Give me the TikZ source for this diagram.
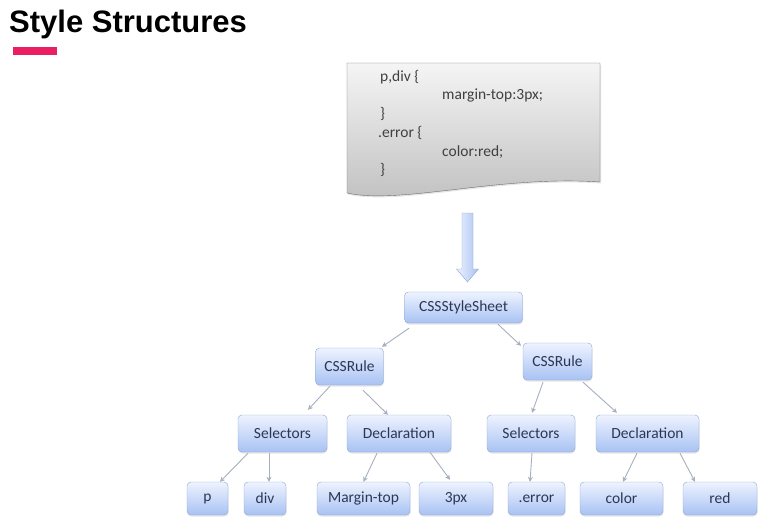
\documentclass[tikz,border=0pt]{standalone}
\usepackage{fontspec}
\setmainfont{Carlito}
\newfontfamily\titlefont{Liberation Sans}
\usetikzlibrary{arrows.meta, shadows}
\definecolor{boxline}{RGB}{140,165,210}
\definecolor{boxtop}{RGB}{238,243,255}
\definecolor{boxbot}{RGB}{168,194,243}
\definecolor{boxtext}{RGB}{45,55,85}
\definecolor{linkgray}{RGB}{165,175,192}
\definecolor{accent}{RGB}{233,30,99}
\definecolor{docline}{RGB}{110,110,110}
\tikzset{
  box/.style={rectangle, draw=boxline, rounded corners=4pt, top color=boxtop, bottom color=boxbot, text=boxtext, inner sep=0pt, minimum height=37pt, font=\fontsize{15.5}{18}\selectfont, drop shadow={shadow xshift=0.5pt, shadow yshift=-1.5pt, opacity=0.2}},
  leaf/.style={box, minimum height=33pt},
  code/.style={anchor=base west, inner sep=0pt, text=black!75, font=\fontsize{15.5}{19}\selectfont},
  link/.style={draw=linkgray, line width=0.9pt, -{Stealth[length=5pt, width=5pt]}},
  flow/.style={draw=boxline, left color=boxtop, right color=boxbot}
}
\begin{document}
\begin{tikzpicture}[x=1pt, y=-1pt]
  \useasboundingbox (0,0) rectangle (777,530);
  % Title
  \node[anchor=base west, inner sep=0pt, font=\titlefont\bfseries\fontsize{31}{36}\selectfont] (title) at (9,32) {Style Structures};
  \fill[accent] (13,47) rectangle (57,55);

  % Document
  \draw[docline, top color=gray!8, bottom color=gray!50, drop shadow={opacity=0.2, shadow xshift=1pt, shadow yshift=-1.5pt}]
    (347,63) -- (600,63) -- (600,182) .. controls (500,175) and (400,205) .. (347,193) -- cycle;
  \node[code] (l1) at (380,81) {p,div \{};
  \node[code] (l2) at (442,99) {margin-top:3px;};
  \node[code] (l3) at (380,118) {\}};
  \node[code] (l4) at (378,137) {.error \{};
  \node[code] (l5) at (442,156) {color:red;};
  \node[code] (l6) at (380,174) {\}};

  % Parse arrow
  \coordinate (flowtop) at (467.5,213);
  \draw[flow] (flowtop) ++(-5.5,0) -- ++(0,56) -- ++(-5.5,0) -- ++(11,13) -- ++(11,-13) -- ++(-5.5,0) -- ++(0,-56) -- cycle;

  % Nodes
  \node[box, minimum width=118pt, minimum height=31pt] (sheet) at (463.5,307.5) {CSSStyleSheet};
  \node[box, minimum width=68pt] (ruleL) at (349.5,366.5) {CSSRule};
  \node[box, minimum width=69pt] (ruleR) at (557.5,361.5) {CSSRule};
  \node[box, minimum width=89pt] (selL) at (282.5,433.5) {Selectors};
  \node[box, minimum width=104pt] (declL) at (399,433.5) {Declaration};
  \node[box, minimum width=88pt] (selR) at (531,433.5) {Selectors};
  \node[box, minimum width=103pt] (declR) at (647.5,433.5) {Declaration};
  \node[leaf, minimum width=41pt] (p) at (207.5,498.5) {p};
  \node[leaf, minimum width=42pt] (div) at (265,498.5) {div};
  \node[leaf, minimum width=93pt] (mtop) at (363.5,498.5) {Margin-top};
  \node[leaf, minimum width=74pt] (px) at (456,498.5) {3px};
  \node[leaf, minimum width=57pt] (err) at (536.5,498.5) {.error};
  \node[leaf, minimum width=83pt] (color) at (621.5,498.5) {color};
  \node[leaf, minimum width=74pt] (red) at (720,498.5) {red};

  % Connections
  \draw[link] ([xshift=-54.5pt, yshift=-5pt]sheet.south) -- ([xshift=32.5pt, yshift=1pt]ruleL.north);
  \draw[link] ([xshift=34.5pt, yshift=-1pt]sheet.south) -- ([xshift=-36.5pt, yshift=-3pt]ruleR.north);
  \draw[link] ([xshift=-19.5pt, yshift=-1pt]ruleL.south) -- ([xshift=25.5pt, yshift=5pt]selL.north);
  \draw[link] ([xshift=13.5pt, yshift=-5pt]ruleL.south) -- ([xshift=-11pt]declL.north);
  \draw[link] ([xshift=-14.5pt, yshift=-2pt]ruleR.south) -- ([xshift=1pt, yshift=2pt]selR.north);
  \draw[link] ([xshift=25.5pt, yshift=-2pt]ruleR.south) -- ([xshift=-30.5pt, yshift=2pt]declR.north);
  \draw[link] ([xshift=-34.5pt, yshift=-1pt]selL.south) -- ([xshift=12.5pt]p.north);
  \draw[link] ([xshift=-13.5pt, yshift=-1pt]selL.south) -- ([xshift=4pt]div.north);
  \draw[link] ([xshift=-22pt, yshift=-1pt]declL.south) -- (mtop.north);
  \draw[link] ([xshift=31pt]declL.south) -- ([xshift=-6pt, yshift=2pt]px.north);
  \draw[link] ([xshift=1pt, yshift=-1pt]selR.south) -- ([xshift=-6.5pt]err.north);
  \draw[link] ([xshift=-10.5pt, yshift=-1pt]declR.south) -- ([xshift=1.5pt]color.north);
  \draw[link] ([xshift=32.5pt, yshift=-1pt]declR.south) -- ([xshift=-25pt]red.north);
\end{tikzpicture}
\end{document}
